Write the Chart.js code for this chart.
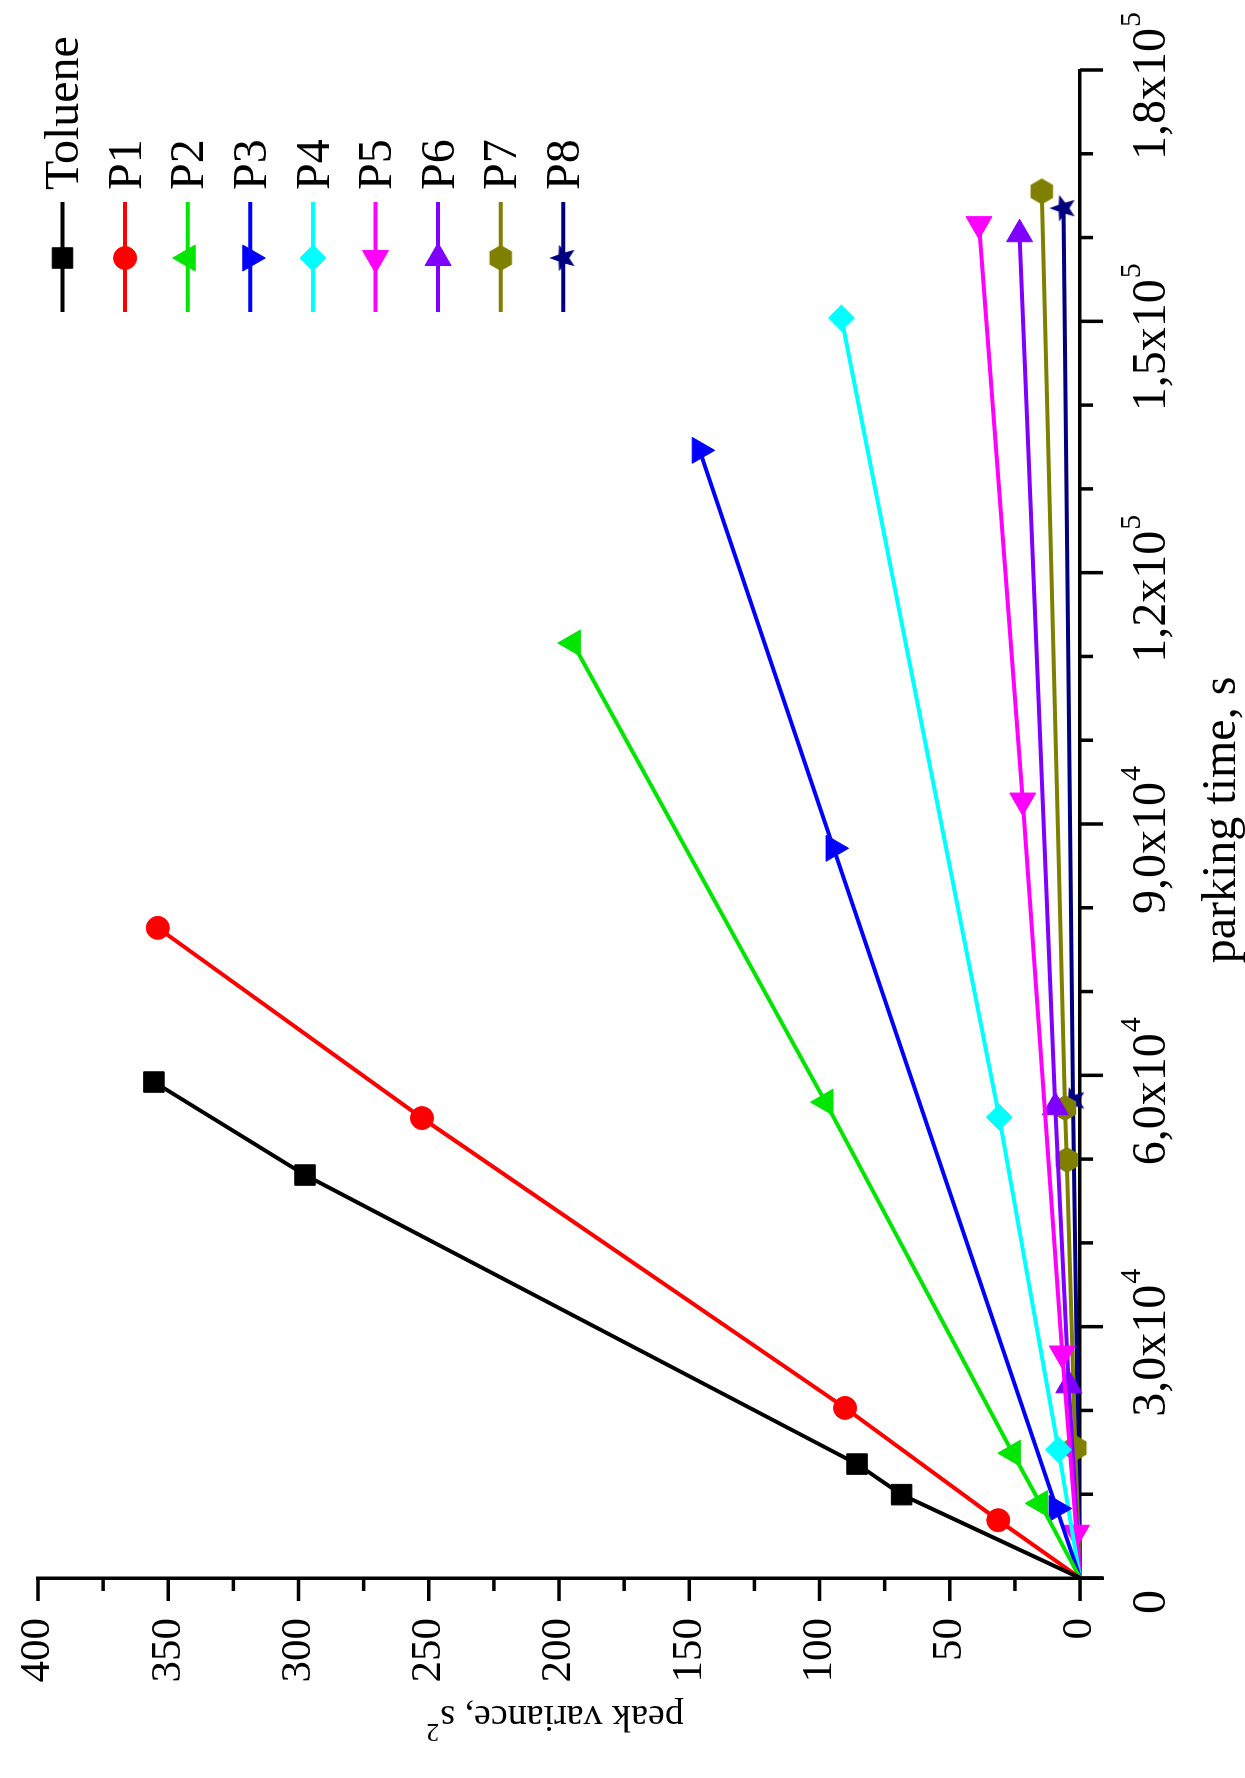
<!DOCTYPE html>
<html>
<head>
<meta charset="utf-8">
<title>Peak variance vs parking time</title>
<script src="https://cdn.jsdelivr.net/npm/chart.js@4.4.1/dist/chart.umd.min.js"></script>
<style>
    html, body { margin: 0; padding: 0; background: #fff; overflow: hidden; }
    body { width: 1245px; height: 1778px; position: relative; }
    /* chart is drawn upright, then turned a quarter to the left like the scanned figure */
    #wrap {
        position: absolute; left: 0; top: 0;
        width: 1778px; height: 1245px;
        transform-origin: 0 0;
        transform: translateY(1778px) rotate(-90deg);
    }
</style>
</head>
<body>
<div id="wrap"><canvas id="chart" width="1778" height="1245"></canvas></div>
<script>
// parking time (s) / peak variance (s^2)
const tolueneTime = [0, 9950, 13600, 48100, 59200];
const tolueneVar  = [0, 68.5, 85.6, 297.5, 355.5];
const p1Time = [0, 6900, 20300, 54900, 77600];
const p1Var  = [0, 31.4, 90.2, 252.6, 354];
const p2Time = [0, 8900, 14900, 56800, 111600];
const p2Var  = [0, 15.3, 25.8, 97.7, 194.7];
const p3Time = [0, 8300, 87100, 134600];
const p3Var  = [0, 9, 94.6, 146];
const p4Time = [0, 15300, 55000, 150400];
const p4Var  = [0, 8.3, 31, 91.6];
const p5Time = [0, 5400, 26800, 92800, 161600];
const p5Var  = [0, 1.4, 6.8, 22, 38.8];
const p6Time = [0, 23000, 56200, 160400];
const p6Var  = [0, 4.3, 9.5, 23.2];
const p7Time = [0, 15500, 49900, 56100, 165500];
const p7Var  = [0, 1.8, 5.1, 5.8, 14.7];
const p8Time = [0, 57000, 163500];
const p8Var  = [0, 2.7, 6.4];

// axis ticks
const xMajorTicks = [0, 30000, 60000, 90000, 120000, 150000, 180000];
const xMinorTicks = [10000, 20000, 40000, 50000, 70000, 80000, 100000, 110000, 130000, 140000, 160000, 170000];
const yMajorTicks = [0, 50, 100, 150, 200, 250, 300, 350, 400];
const yMinorTicks = [25, 75, 125, 175, 225, 275, 325, 375];

const SERIF = '"Liberation Serif", "Times New Roman", serif';

// filled shapes Chart.js has no built-in style for
const makeShape = (color, size, path) => {
    const c = document.createElement('canvas');
    c.width = c.height = size;
    const g = c.getContext('2d');
    g.fillStyle = color;
    g.beginPath();
    path(g, size / 2);
    g.closePath();
    g.fill();
    return c;
};
const hexagon = makeShape('#808000', 28, (g, r) => {
    for (let k = 0; k < 6; k++) {
        const a = k * Math.PI / 3;
        g.lineTo(r + (r - 1) * Math.cos(a), r + (r - 1) * Math.sin(a));
    }
});
const star = makeShape('#000080', 30, (g, r) => {
    for (let k = 0; k < 10; k++) {
        const a = -Math.PI / 2 + k * Math.PI / 5;
        const rr = k % 2 ? (r - 1) * 0.42 : r - 1;
        g.lineTo(r + rr * Math.cos(a), r + rr * Math.sin(a));
    }
});

const series = [
    { label: 'Toluene', time: tolueneTime, variance: tolueneVar, color: '#000000', style: 'rect', rotation: 0, radius: 14.5 },
    { label: 'P1', time: p1Time, variance: p1Var, color: '#FF0000', style: 'circle', rotation: 0, radius: 11.5 },
    { label: 'P2', time: p2Time, variance: p2Var, color: '#00E600', style: 'triangle', rotation: 0, radius: 15 },
    { label: 'P3', time: p3Time, variance: p3Var, color: '#0000FF', style: 'triangle', rotation: 180, radius: 15 },
    { label: 'P4', time: p4Time, variance: p4Var, color: '#00FFFF', style: 'rectRot', rotation: 0, radius: 13 },
    { label: 'P5', time: p5Time, variance: p5Var, color: '#FF00FF', style: 'triangle', rotation: 270, radius: 15 },
    { label: 'P6', time: p6Time, variance: p6Var, color: '#8000FF', style: 'triangle', rotation: 90, radius: 15 },
    { label: 'P7', time: p7Time, variance: p7Var, color: '#808000', style: hexagon, rotation: 0, radius: 13 },
    { label: 'P8', time: p8Time, variance: p8Var, color: '#000080', style: star, rotation: 0, radius: 13 }
];

const datasets = series.map(s => ({
    label: s.label,
    data: s.time.map((t, i) => ({ x: t, y: s.variance[i] })),
    showLine: true,
    borderColor: s.color,
    backgroundColor: s.color,
    borderWidth: 4,
    tension: 0,
    pointStyle: s.style,
    pointRotation: s.rotation,
    pointRadius: ctx => ctx.dataIndex === 0 ? 0 : s.radius,
    pointBorderWidth: 1,
    pointBorderColor: s.color,
    pointBackgroundColor: s.color,
    clip: false
}));

// x tick text like "1,8x10" with the power raised
const sciParts = v => {
    if (v === 0) return ['0', ''];
    const e = Math.floor(Math.log10(v));
    const m = (v / Math.pow(10, e)).toFixed(1).replace('.', ',');
    return [m + 'x10', String(e)];
};

// tick marks, x labels, axis titles and the legend
const decor = {
    id: 'decor',
    afterDraw(chart) {
        const ctx = chart.ctx;
        const xs = chart.scales.x;
        const ys = chart.scales.y;
        const axisY = ys.getPixelForValue(0);
        const axisX = xs.left;
        const line = (x1, y1, x2, y2) => {
            ctx.beginPath();
            ctx.moveTo(x1, y1);
            ctx.lineTo(x2, y2);
            ctx.stroke();
        };

        ctx.save();
        ctx.strokeStyle = '#000';
        ctx.lineWidth = 3.5;
        yMajorTicks.forEach(v => { const p = ys.getPixelForValue(v); line(axisX - 23, p, axisX, p); });
        yMinorTicks.forEach(v => { const p = ys.getPixelForValue(v); line(axisX - 13, p, axisX, p); });
        xMajorTicks.forEach(v => { const p = xs.getPixelForValue(v); line(p, axisY, p, axisY + 23); });
        xMinorTicks.forEach(v => { const p = xs.getPixelForValue(v); line(p, axisY, p, axisY + 13); });

        // x tick labels
        ctx.fillStyle = '#000';
        ctx.textAlign = 'left';
        ctx.textBaseline = 'alphabetic';
        xMajorTicks.forEach(v => {
            const [base, exp] = sciParts(v);
            ctx.font = '48px ' + SERIF;
            const wb = ctx.measureText(base).width;
            const left = xs.getPixelForValue(v) - 24 - wb / 2;
            ctx.fillText(base, left, axisY + 85);
            if (exp) {
                ctx.font = '30px ' + SERIF;
                ctx.fillText(exp, left + wb + 1, axisY + 60);
            }
        });

        // axis titles
        ctx.textAlign = 'center';
        ctx.textBaseline = 'middle';
        ctx.font = '48px ' + SERIF;
        ctx.fillText('parking time, s', (xs.left + xs.right) / 2 + 4, axisY + 142);

        ctx.save();
        ctx.translate(60, 556);
        ctx.rotate(-Math.PI / 2);
        ctx.textAlign = 'left';
        ctx.textBaseline = 'alphabetic';
        ctx.font = '38px ' + SERIF;
        const yTitle = 'peak variance, s';
        const wt = ctx.measureText(yTitle).width;
        ctx.fillText(yTitle, -wt / 2 - 6, 12);
        ctx.font = '26px ' + SERIF;
        ctx.fillText('2', wt / 2 - 5, -6);
        ctx.restore();

        // legend, top right of the plot
        series.forEach((s, i) => {
            const y = 62.5 + i * 62.6;
            ctx.strokeStyle = s.color;
            ctx.lineWidth = 4;
            line(1466, y, 1576, y);
            ctx.fillStyle = s.color;
            ctx.lineWidth = 1;
            Chart.helpers.drawPoint(ctx, {
                pointStyle: s.style, rotation: s.rotation, radius: s.radius, borderWidth: 1
            }, 1520, y);
            ctx.fillStyle = '#000';
            ctx.textAlign = 'left';
            ctx.textBaseline = 'middle';
            ctx.font = '48px ' + SERIF;
            ctx.fillText(s.label, 1588, y + 3);
        });
        ctx.restore();
    }
};

new Chart(document.getElementById('chart'), {
    type: 'scatter',
    data: { datasets },
    options: {
        responsive: false,
        devicePixelRatio: 1,
        animation: false,
        layout: { padding: { left: 0, right: 70, top: 38, bottom: 141.5 } },
        plugins: {
            legend: { display: false },
            tooltip: { enabled: false }
        },
        scales: {
            x: {
                type: 'linear',
                position: { y: 0 },
                min: 0,
                max: 180000,
                grid: { display: false, drawTicks: false },
                border: { display: true, color: '#000', width: 3.5 },
                ticks: { display: false },
                afterBuildTicks: s => { s.ticks = xMajorTicks.map(v => ({ value: v })); }
            },
            y: {
                type: 'linear',
                position: 'left',
                min: -9,
                max: 400,
                grid: { display: false, drawTicks: false },
                border: { display: true, color: '#000', width: 3.5 },
                ticks: {
                    color: '#000',
                    padding: 40,
                    font: { family: SERIF, size: 43 }
                },
                afterBuildTicks: s => { s.ticks = yMajorTicks.map(v => ({ value: v })); },
                afterFit: s => {
                    s.width = 200;
                    s.paddingTop = 0;
                    s.paddingBottom = 0;
                }
            }
        }
    },
    plugins: [decor]
});
</script>
</body>
</html>
